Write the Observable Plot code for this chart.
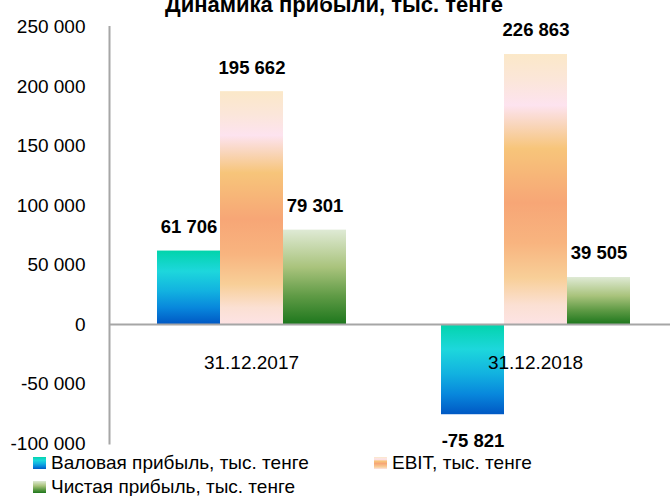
<!DOCTYPE html>
<html>
<head>
<meta charset="utf-8">
<script src="https://cdn.jsdelivr.net/npm/d3@7"></script>
<script src="https://cdn.jsdelivr.net/npm/@observablehq/plot@0.6"></script>
<style>
  body { margin: 0; background: #fff; }
  #chart { position: relative; width: 670px; height: 496px; overflow: hidden;
           font-family: "Liberation Sans", Arial, sans-serif; color: #000; background: #fff; }
  #plot { position: absolute; left: 0; top: 0; }
  #title { position: absolute; left: 0; width: 668px; top: -6px; text-align: center;
           font-weight: bold; font-size: 22px; line-height: 22px; white-space: nowrap; }
  #legend { position: absolute; left: 33px; top: 451px; width: 700px; font-size: 19px; line-height: 20px; }
  .item { display: inline-flex; align-items: center; height: 24px; width: 341px; white-space: nowrap; vertical-align: top; }
  .sw { width: 13px; height: 12px; margin-right: 5px; flex: none; }
</style>
</head>
<body>
<div id="chart">
  <svg width="0" height="0" style="position:absolute">
    <defs>
      <linearGradient id="g0" x1="0" y1="0" x2="0" y2="1">
        <stop offset="0" stop-color="#02d4ab"/>
        <stop offset="0.28" stop-color="#1dd7dc"/>
        <stop offset="0.55" stop-color="#12b2e0"/>
        <stop offset="0.78" stop-color="#0887dc"/>
        <stop offset="1" stop-color="#0058c4"/>
      </linearGradient>
      <linearGradient id="g1" x1="0" y1="0" x2="0" y2="1">
        <stop offset="0" stop-color="#fbe8c8"/>
        <stop offset="0.1" stop-color="#fbe6da"/>
        <stop offset="0.19" stop-color="#fde3ef"/>
        <stop offset="0.26" stop-color="#f9d6bd"/>
        <stop offset="0.35" stop-color="#f7c57a"/>
        <stop offset="0.55" stop-color="#f7a676"/>
        <stop offset="0.7" stop-color="#f8b47f"/>
        <stop offset="0.83" stop-color="#f8cf98"/>
        <stop offset="0.93" stop-color="#fbe0d3"/>
        <stop offset="1" stop-color="#fde3e4"/>
      </linearGradient>
      <linearGradient id="g2" x1="0" y1="0" x2="0" y2="1">
        <stop offset="0" stop-color="#dfead5"/>
        <stop offset="0.4" stop-color="#a9c37c"/>
        <stop offset="0.7" stop-color="#609b46"/>
        <stop offset="1" stop-color="#1e771d"/>
      </linearGradient>
    </defs>
  </svg>
  <div id="plot"></div>
  <div id="title">Динамика прибыли, тыс. тенге</div>
  <div id="legend"></div>
</div>
<script>
// ---- data ----
const dates = ["31.12.2017", "31.12.2018"];
const series = ["Валовая прибыль, тыс. тенге", "EBIT, тыс. тенге", "Чистая прибыль, тыс. тенге"];
const grossProfit = [61706, -75821];
const ebit = [195662, 226863];
const netProfit = [79301, 39505];
const yTicks = [-100000, -50000, 0, 50000, 100000, 150000, 200000, 250000];

// ---- styles ----
const fills = ["url(#g0)", "url(#g1)", "url(#g2)"];
const cssFills = [
  "linear-gradient(to bottom,#02d4ab,#1dd7dc 28%,#12b2e0 55%,#0887dc 78%,#0058c4)",
  "linear-gradient(to bottom,#fbe8c8,#fde3ef 19%,#f7c57a 35%,#f7a676 55%,#f8cf98 83%,#fde3e4)",
  "linear-gradient(to bottom,#dfead5,#a9c37c 40%,#609b46 70%,#1e771d)"
];

const valuesBySeries = [grossProfit, ebit, netProfit];
const rows = [];
dates.forEach((d, i) => series.forEach((s, j) => rows.push({date: d, series: s, value: valuesBySeries[j][i]})));

const fmt = d3.formatLocale({decimal: ",", thousands: " ", grouping: [3], currency: ["", ""], minus: "-"}).format(",d");

const chart = Plot.plot({
  width: 670,
  height: 453,
  marginLeft: 109,
  marginRight: -7,
  marginTop: 26.5,
  marginBottom: 10,
  style: {fontFamily: "'Liberation Sans', Arial, sans-serif", background: "transparent", overflow: "visible"},
  fx: {domain: dates, padding: 0, axis: null},
  x: {domain: series, paddingInner: 0, paddingOuter: 0.742, axis: null},
  y: {domain: [-100000, 250000], axis: null},
  color: {domain: series, range: fills},
  marks: [
    Plot.barY(rows, {fx: "date", x: "series", y: "value", fill: "series"}),
    Plot.ruleY([0], {stroke: "#a6a6a6", strokeWidth: 2}),
    Plot.frame({anchor: "left", facetAnchor: "left", stroke: "#a6a6a6", strokeWidth: 2}),
    Plot.axisY(yTicks, {anchor: "left", label: null, tickSize: 0, tickPadding: 24, tickFormat: fmt, fontSize: 19, fill: "#000"}),
    Plot.text(dates, {fx: d => d, y: () => 0, text: d => d, dy: 38, fontSize: 19, fill: "#000"}),
    Plot.text(rows.filter(r => r.value >= 0), {fx: "date", x: "series", y: "value", text: r => fmt(r.value), dy: -24, fontSize: 18.5, fontWeight: "bold", fill: "#000"}),
    Plot.text(rows.filter(r => r.value < 0), {fx: "date", x: "series", y: "value", text: r => fmt(r.value), dy: 26, fontSize: 18.5, fontWeight: "bold", fill: "#000"})
  ]
});
document.getElementById("plot").appendChild(chart);

const legend = document.getElementById("legend");
series.forEach((s, j) => {
  const item = document.createElement("div");
  item.className = "item";
  const sw = document.createElement("span");
  sw.className = "sw";
  sw.style.background = cssFills[j];
  const label = document.createElement("span");
  label.textContent = s;
  item.appendChild(sw);
  item.appendChild(label);
  legend.appendChild(item);
  if (j === 1) legend.appendChild(document.createElement("br"));
});
</script>
</body>
</html>
